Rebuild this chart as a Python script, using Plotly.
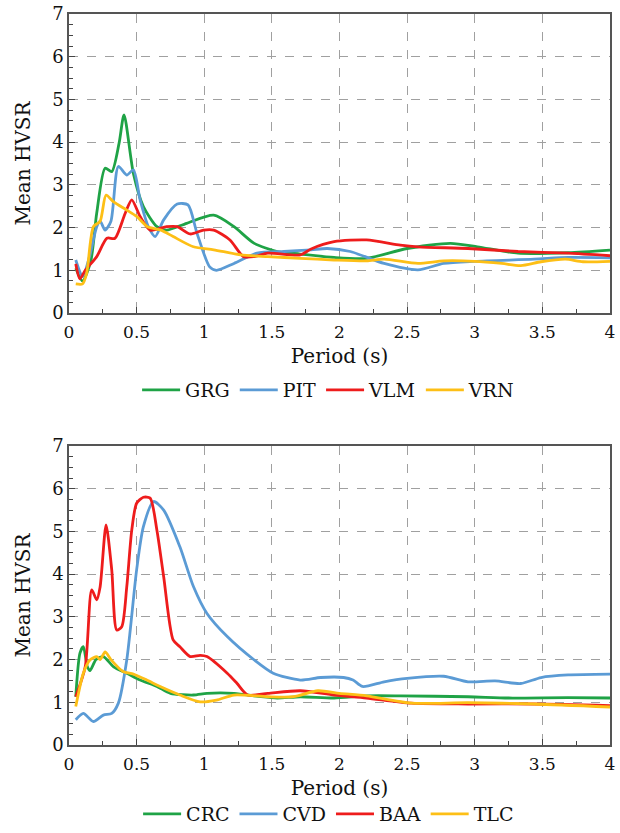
import plotly.graph_objects as go

# ---------------- data ----------------
GRG_x = [0.05, 0.1, 0.16, 0.205, 0.267, 0.316, 0.37, 0.407, 0.476, 0.55, 0.65, 0.72, 0.87, 1.07, 1.22, 1.37, 1.54, 1.71, 1.96, 2.2, 2.5, 2.82, 3.02, 3.32, 3.69, 4.0]
GRG_y = [1.05, 0.75, 1.2, 2.34, 3.39, 3.31, 3.97, 4.64, 3.27, 2.49, 2.02, 1.94, 2.1, 2.29, 2.02, 1.63, 1.44, 1.38, 1.30, 1.28, 1.51, 1.63, 1.55, 1.40, 1.41, 1.47]

PIT_x = [0.05, 0.1, 0.15, 0.205, 0.23, 0.267, 0.31, 0.365, 0.427, 0.476, 0.526, 0.587, 0.637, 0.70, 0.80, 0.88, 0.946, 1.04, 1.09, 1.22, 1.39, 1.59, 1.79, 1.91, 2.08, 2.33, 2.58, 2.77, 3.0, 3.44, 3.69, 4.0]
PIT_y = [1.24, 0.85, 1.3, 2.02, 2.15, 1.94, 2.15, 3.43, 3.23, 3.35, 2.65, 2.02, 1.79, 2.18, 2.55, 2.53, 1.87, 1.08, 1.0, 1.16, 1.40, 1.44, 1.48, 1.51, 1.44, 1.16, 1.01, 1.16, 1.21, 1.26, 1.30, 1.29]

VLM_x = [0.05, 0.08, 0.12, 0.205, 0.28, 0.34, 0.415, 0.464, 0.526, 0.6, 0.72, 0.8, 0.896, 0.995, 1.07, 1.19, 1.29, 1.37, 1.47, 1.71, 1.79, 1.96, 2.2, 2.45, 2.58, 2.95, 3.32, 3.69, 4.0]
VLM_y = [1.15, 0.8, 1.0, 1.32, 1.75, 1.75, 2.33, 2.65, 2.26, 1.94, 2.02, 2.02, 1.85, 1.94, 1.94, 1.71, 1.32, 1.32, 1.40, 1.36, 1.5, 1.67, 1.71, 1.59, 1.55, 1.51, 1.44, 1.40, 1.34]

VRN_x = [0.05, 0.1, 0.13, 0.18, 0.23, 0.274, 0.33, 0.427, 0.5, 0.58, 0.68, 0.77, 0.92, 1.07, 1.27, 1.47, 1.71, 1.96, 2.2, 2.33, 2.58, 2.77, 3.0, 3.2, 3.34, 3.49, 3.67, 3.8, 4.0]
VRN_y = [0.68, 0.68, 0.92, 2.02, 2.15, 2.76, 2.6, 2.41, 2.26, 2.02, 1.94, 1.79, 1.55, 1.48, 1.36, 1.32, 1.28, 1.24, 1.22, 1.26, 1.16, 1.22, 1.21, 1.16, 1.11, 1.2, 1.26, 1.2, 1.21]

CRC_x = [0.05, 0.081, 0.106, 0.136, 0.155, 0.2, 0.254, 0.33, 0.427, 0.526, 0.65, 0.75, 0.92, 1.02, 1.22, 1.42, 1.54, 1.71, 1.96, 2.2, 2.45, 2.95, 3.25, 3.69, 4.0]
CRC_y = [1.13, 2.15, 2.3, 1.83, 1.74, 2.0, 2.07, 1.83, 1.68, 1.52, 1.37, 1.21, 1.17, 1.21, 1.21, 1.13, 1.1, 1.13, 1.1, 1.15, 1.15, 1.13, 1.1, 1.11, 1.1]

CVD_x = [0.05, 0.106, 0.18, 0.254, 0.316, 0.365, 0.427, 0.5, 0.55, 0.625, 0.7, 0.82, 0.92, 1.02, 1.17, 1.37, 1.51, 1.71, 1.86, 2.03, 2.1, 2.17, 2.33, 2.5, 2.77, 2.95, 3.15, 3.34, 3.49, 3.69, 4.0]
CVD_y = [0.59, 0.74, 0.55, 0.7, 0.74, 0.98, 1.99, 4.1, 5.11, 5.7, 5.5, 4.64, 3.71, 3.08, 2.54, 1.99, 1.68, 1.52, 1.58, 1.58, 1.52, 1.37, 1.48, 1.56, 1.61, 1.48, 1.5, 1.44, 1.58, 1.64, 1.66]

BAA_x = [0.05, 0.12, 0.168, 0.205, 0.23, 0.274, 0.316, 0.353, 0.39, 0.427, 0.464, 0.5, 0.55, 0.6, 0.65, 0.7, 0.77, 0.82, 0.896, 0.97, 1.02, 1.17, 1.24, 1.32, 1.47, 1.71, 1.96, 2.2, 2.53, 2.95, 3.44, 4.0]
BAA_y = [1.13, 1.83, 3.63, 3.4, 3.7, 5.15, 4.1, 2.69, 2.77, 3.7, 5.03, 5.66, 5.8, 5.78, 5.03, 3.94, 2.46, 2.3, 2.07, 2.1, 2.07, 1.68, 1.45, 1.17, 1.21, 1.27, 1.17, 1.1, 0.98, 0.96, 0.96, 0.92]

TLC_x = [0.05, 0.106, 0.155, 0.205, 0.23, 0.267, 0.31, 0.40, 0.476, 0.575, 0.674, 0.82, 0.97, 1.09, 1.22, 1.47, 1.66, 1.84, 2.0, 2.2, 2.53, 2.95, 3.44, 4.0]
TLC_y = [0.9, 1.68, 1.99, 2.07, 2.0, 2.18, 2.0, 1.72, 1.66, 1.52, 1.37, 1.17, 1.01, 1.05, 1.17, 1.13, 1.13, 1.27, 1.21, 1.15, 0.98, 0.99, 0.96, 0.89]

x_ticks = [0, 0.5, 1, 1.5, 2, 2.5, 3, 3.5, 4]
x_labels = ["0", "0.5", "1", "1.5", "2", "2.5", "3", "3.5", "4"]
y_ticks = [0, 1, 2, 3, 4, 5, 6, 7]

GREEN = "#1fa346"
BLUE = "#5b9bd5"
RED = "#ee1c1c"
YELLOW = "#fdbf16"

top_series = [("GRG", GRG_x, GRG_y, GREEN), ("PIT", PIT_x, PIT_y, BLUE),
              ("VLM", VLM_x, VLM_y, RED), ("VRN", VRN_x, VRN_y, YELLOW)]
bot_series = [("CRC", CRC_x, CRC_y, GREEN), ("CVD", CVD_x, CVD_y, BLUE),
              ("BAA", BAA_x, BAA_y, RED), ("TLC", TLC_x, TLC_y, YELLOW)]

FONT = "DejaVu Serif"
W, H = 620, 833

fig = go.Figure()
for name, xs, ys, c in top_series:
    fig.add_trace(go.Scatter(x=xs, y=ys, name=name, mode="lines",
                             line=dict(color=c, width=2.8, shape="spline", smoothing=0.7),
                             xaxis="x", yaxis="y", legend="legend"))
for name, xs, ys, c in bot_series:
    fig.add_trace(go.Scatter(x=xs, y=ys, name=name, mode="lines",
                             line=dict(color=c, width=2.8, shape="spline", smoothing=0.7),
                             xaxis="x2", yaxis="y2", legend="legend2"))

xdom = [69 / W, 610 / W]
ydom_top = [1 - 313 / H, 1 - 14 / H]
ydom_bot = [1 - 745 / H, 1 - 446 / H]

def xaxis(anchor):
    return dict(domain=xdom, anchor=anchor, range=[0, 4], tickvals=x_ticks, ticktext=x_labels,
                ticks="inside", ticklen=6, tickcolor="#444", showline=True, linecolor="#555",
                linewidth=1.5, mirror=True, showgrid=True, gridcolor="#a0a0a0", griddash="dash",
                gridwidth=1, zeroline=False, ticklabeloverflow="allow", automargin=False,
                ticklabelstandoff=3,
                minor=dict(dtick=0.25, tick0=0, ticks="inside", ticklen=4, tickcolor="#444", showgrid=False),
                tickfont=dict(family=FONT, size=17, color="#111"),
                title=dict(text="Period (s)", font=dict(family=FONT, size=20, color="#111"), standoff=8))

def yaxis(anchor, dom):
    return dict(domain=dom, anchor=anchor, range=[0, 7], tickvals=y_ticks,
                ticks="inside", ticklen=6, tickcolor="#444", showline=True, linecolor="#555",
                linewidth=1.5, mirror=True, showgrid=True, gridcolor="#a0a0a0", griddash="dash",
                gridwidth=1, zeroline=False, automargin=False,
                minor=dict(dtick=0.25, tick0=0, ticks="inside", ticklen=4, tickcolor="#444", showgrid=False),
                tickfont=dict(family=FONT, size=18, color="#111"),
                title=dict(text="Mean HVSR", font=dict(family=FONT, size=20, color="#111"), standoff=16))

leg_common = dict(orientation="h", xanchor="center",
                  font=dict(family=FONT, size=19, color="#111"), bgcolor="rgba(0,0,0,0)",
                  itemwidth=38, tracegroupgap=0)

fig.update_layout(
    width=W, height=H, margin=dict(l=0, r=0, t=0, b=0),
    font=dict(family=FONT),
    paper_bgcolor="white", plot_bgcolor="white",
    xaxis=xaxis("y"), yaxis=yaxis("x", ydom_top),
    xaxis2=xaxis("y2"), yaxis2=yaxis("x2", ydom_bot),
    legend=dict(x=0.53, y=1 - 390 / H, yanchor="middle", **leg_common),
    legend2=dict(x=0.53, y=0.0, yanchor="bottom", **leg_common),
    showlegend=True,
)

fig.write_html("out.html", config={"displayModeBar": False},
               post_script="document.body.style.margin='0';document.body.style.overflow='hidden';")
